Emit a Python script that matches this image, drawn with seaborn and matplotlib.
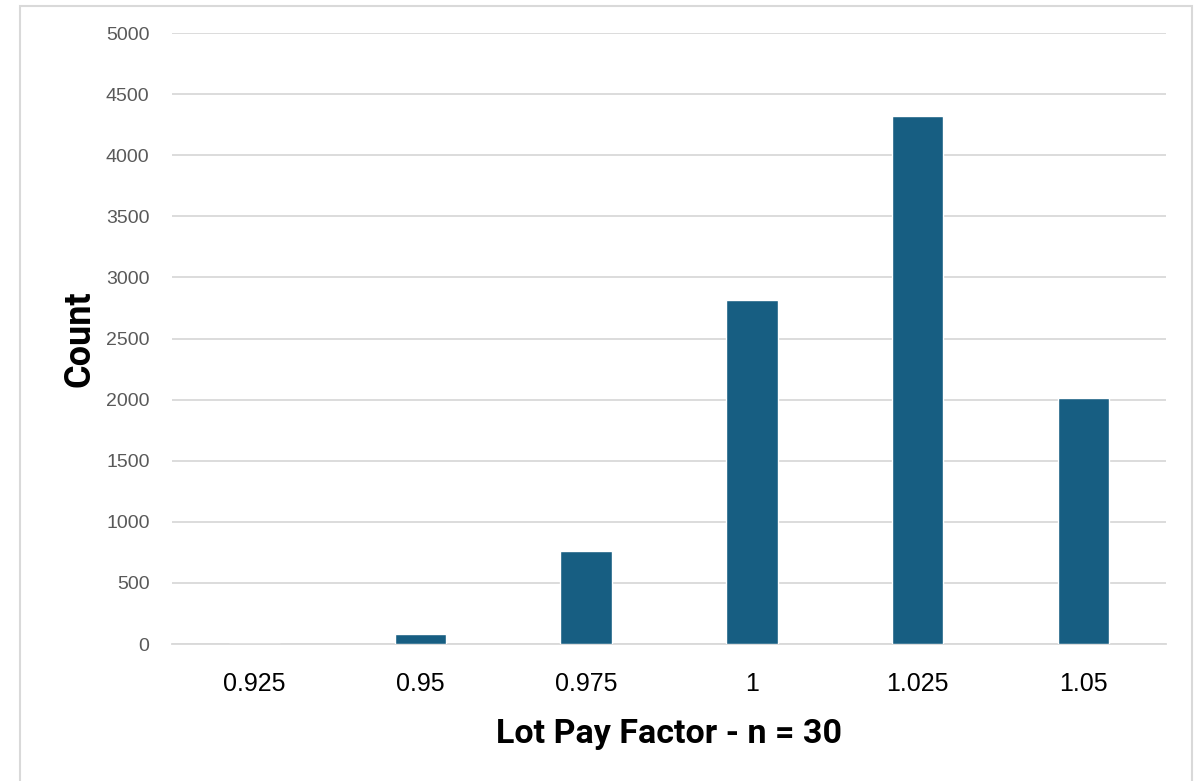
import matplotlib
matplotlib.use("Agg")
import matplotlib.pyplot as plt
from matplotlib.patches import Rectangle
import seaborn as sns
import pandas as pd

# Lot pay factor distribution (n = 30)
pay_factors = ["0.925", "0.95", "0.975", "1", "1.025", "1.05"]
counts = [0, 78, 758, 2815, 4323, 2010]
y_ticks = [0, 500, 1000, 1500, 2000, 2500, 3000, 3500, 4000, 4500, 5000]

bar_color = "#175E82"
grid_color = "#D9D9D9"

sns.set_theme(style="white")
plt.rcParams["font.family"] = ["Liberation Sans", "DejaVu Sans"]

df = pd.DataFrame({"factor": pay_factors, "count": counts})

fig = plt.figure(figsize=(12.01, 7.81), dpi=100)
fig.patch.set_facecolor("white")
ax = fig.add_axes([0.143, 0.1754, 0.828, 0.7823])

sns.barplot(data=df, x="factor", y="count", order=pay_factors, color=bar_color,
            width=0.31, saturation=1, ax=ax, zorder=3)

ax.set_ylim(0, 5000)
ax.set_yticks(y_ticks)
ax.set_yticklabels([str(v) for v in y_ticks], fontsize=14, color="#595959")
ax.set_xticklabels(pay_factors, fontsize=18, color="black")
ax.tick_params(axis="y", length=0, pad=16)
ax.tick_params(axis="x", length=0, pad=20)
ax.yaxis.grid(True, color=grid_color, linewidth=1.3, zorder=0)
ax.xaxis.grid(False)
for s in ["top", "right", "left"]:
    ax.spines[s].set_visible(False)
ax.spines["bottom"].set_color(grid_color)
ax.spines["bottom"].set_linewidth(1.3)

label_font = ["Roboto", "DejaVu Sans"]
ax.set_xlabel("Lot Pay Factor - n = 30", fontsize=24.5, fontweight="bold",
              family=label_font, color="black", labelpad=16)
ax.set_ylabel("Count", fontsize=26, fontweight="bold",
              family=label_font, color="black", labelpad=6)

# chart frame
fig.patches.append(Rectangle((20 / 1201, -0.05), 1172 / 1201, 1 - 6 / 781 + 0.05,
                             transform=fig.transFigure, fill=False,
                             edgecolor=grid_color, linewidth=1.5))

fig.savefig("out.png", dpi=100)
